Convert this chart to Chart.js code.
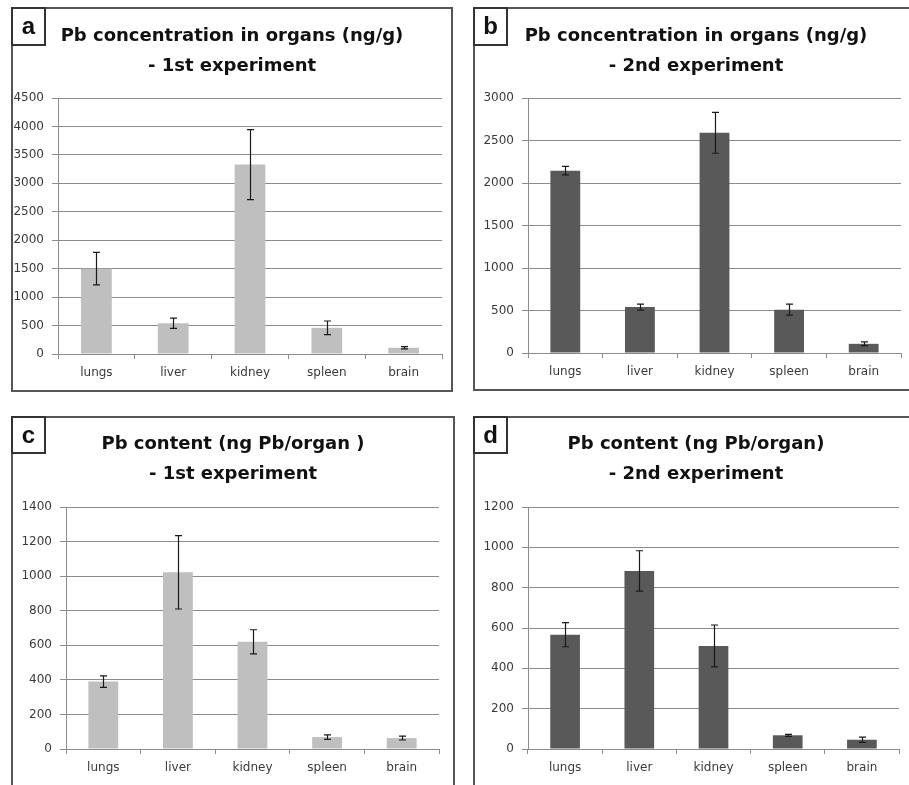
<!DOCTYPE html>
<html>
<head>
<meta charset="utf-8">
<script src="https://cdn.jsdelivr.net/npm/chart.js@4"></script>
<style>
  html, body { margin: 0; padding: 0; background: #fff; }
  body { width: 909px; height: 785px; position: relative; overflow: hidden; }
  .panel { position: absolute; }
  .panel canvas { position: absolute; left: 0; top: 0; }
  .frame { position: absolute; left: 0; top: 0; right: 0; bottom: 0; border: 2px solid #555; box-sizing: border-box; pointer-events: none; }
  .tag { position: absolute; left: 0; top: 0; width: 35px; height: 39px; box-sizing: border-box; border: 2px solid #333;
         font: bold 24px "Liberation Sans", Arial, sans-serif; color: #111; text-align: center; line-height: 33px; background: #fff; }
  .title { position: absolute; left: 0; right: 0; top: 13px; text-align: center; font: bold 18px "DejaVu Sans", sans-serif;
           line-height: 30px; color: #111; }
</style>
</head>
<body>
<div class="panel" id="pa" style="left:11px; top:7px; width:442px; height:385px;">
  <canvas id="chartA"></canvas>
  <div class="frame"></div>
  <div class="tag">a</div>
  <div class="title">Pb concentration in organs (ng/g)<br>- 1st experiment</div>
</div>
<div class="panel" id="pb" style="left:473px; top:7px; width:446px; height:384px;">
  <canvas id="chartB"></canvas>
  <div class="frame"></div>
  <div class="tag">b</div>
  <div class="title">Pb concentration in organs (ng/g)<br>- 2nd experiment</div>
</div>
<div class="panel" id="pc" style="left:11px; top:416px; width:444px; height:385px;">
  <canvas id="chartC"></canvas>
  <div class="frame"></div>
  <div class="tag" style="height:38px;">c</div>
  <div class="title" style="top:12px;">Pb content (ng Pb/organ )<br>- 1st experiment</div>
</div>
<div class="panel" id="pd" style="left:473px; top:416px; width:446px; height:385px;">
  <canvas id="chartD"></canvas>
  <div class="frame"></div>
  <div class="tag" style="height:38px;">d</div>
  <div class="title" style="top:12px;">Pb content (ng Pb/organ)<br>- 2nd experiment</div>
</div>
<script>
// organs on the x axis
var organs = ['lungs', 'liver', 'kidney', 'spleen', 'brain'];

// a: concentration, 1st experiment (ng/g)
var concExp1 = [1500, 540, 3330, 460, 110];
var concExp1Err = [285, 90, 615, 120, 20];
// b: concentration, 2nd experiment (ng/g)
var concExp2 = [2145, 540, 2590, 510, 108];
var concExp2Err = [50, 35, 240, 65, 22];
// c: content, 1st experiment (ng Pb/organ)
var contentExp1 = [390, 1022, 620, 69, 63];
var contentExp1Err = [33, 212, 70, 13, 11];
// d: content, 2nd experiment (ng Pb/organ)
var contentExp2 = [567, 883, 511, 68, 46];
var contentExp2Err = [60, 100, 104, 5, 13];

var lightBar = '#bfbfbf';
var darkBar = '#595959';
var gridColor = '#8c8c8c';
var tickColor = '#3a3a3a';

// draws the error bars with caps from the y scale
var errorBars = {
    id: 'errorBars',
    afterDatasetsDraw: function (chart) {
        var errs = chart.options.plugins.errorBars.errors;
        var yScale = chart.scales.y;
        var ds = chart.data.datasets[0].data;
        var ctx = chart.ctx;
        ctx.save();
        ctx.strokeStyle = '#1a1a1a';
        ctx.lineWidth = 1.2;
        chart.getDatasetMeta(0).data.forEach(function (bar, i) {
            var x = Math.round(bar.x) + 0.5;
            var yHi = yScale.getPixelForValue(ds[i] + errs[i]);
            var yLo = yScale.getPixelForValue(ds[i] - errs[i]);
            ctx.beginPath();
            ctx.moveTo(x, yHi); ctx.lineTo(x, yLo);
            ctx.moveTo(x - 3.5, yHi); ctx.lineTo(x + 3.5, yHi);
            ctx.moveTo(x - 3.5, yLo); ctx.lineTo(x + 3.5, yLo);
            ctx.stroke();
        });
        ctx.restore();
    }
};

function makeChart(id, values, errs, color, max, step, axisWidth, padRight, padBottom) {
    var ctx = document.getElementById(id).getContext('2d');
    return new Chart(ctx, {
        type: 'bar',
        data: {
            labels: organs,
            datasets: [{
                data: values,
                backgroundColor: color,
                borderWidth: 0,
                barPercentage: 0.4,
                categoryPercentage: 1.0
            }]
        },
        options: {
            responsive: true,
            maintainAspectRatio: false,
            animation: false,
            layout: { padding: { top: 91, left: 0, right: padRight, bottom: padBottom } },
            plugins: {
                legend: { display: false },
                tooltip: { enabled: false },
                errorBars: { errors: errs }
            },
            scales: {
                x: {
                    grid: { drawOnChartArea: false, drawTicks: true, tickLength: 5, color: gridColor, offset: true },
                    border: { color: gridColor, width: 1 },
                    ticks: { color: tickColor, padding: 7, font: { family: 'DejaVu Sans', size: 12 } },
                    afterFit: function (scale) { scale.height = 30; }
                },
                y: {
                    min: 0,
                    max: max,
                    grid: { color: gridColor, tickLength: 6 },
                    border: { color: gridColor, width: 1 },
                    ticks: {
                        stepSize: step, color: tickColor, padding: 8,
                        font: { family: 'DejaVu Sans', size: 12 },
                        callback: function (value) { return String(value); }
                    },
                    afterFit: function (scale) { scale.width = axisWidth; }
                }
            }
        },
        plugins: [errorBars]
    });
}

document.addEventListener('DOMContentLoaded', function () {
    makeChart('chartA', concExp1, concExp1Err, lightBar, 4500, 500, 47, 11, 8);
    makeChart('chartB', concExp2, concExp2Err, darkBar, 3000, 500, 55, 18, 8);
    makeChart('chartC', contentExp1, contentExp1Err, lightBar, 1400, 200, 55, 16, 22);
    makeChart('chartD', contentExp2, contentExp2Err, darkBar, 1200, 200, 55, 20, 22);
});
</script>
</body>
</html>
